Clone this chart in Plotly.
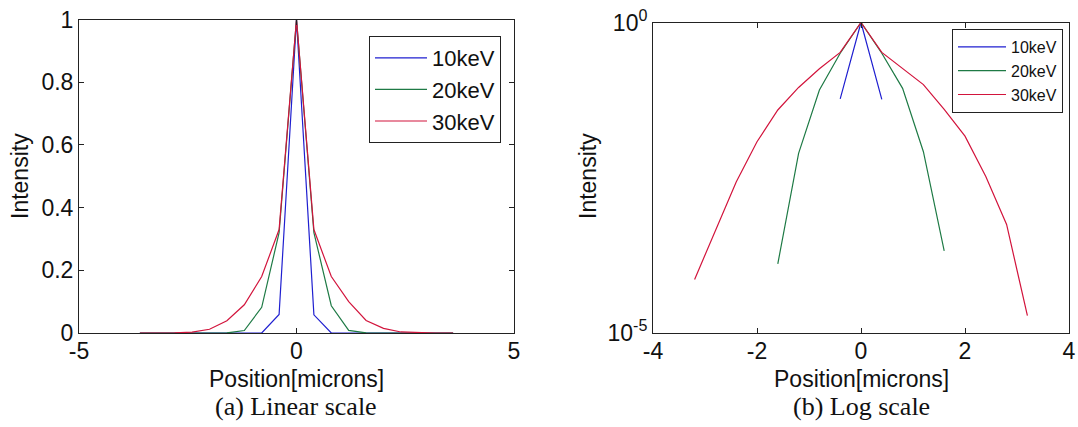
import plotly.graph_objects as go

# ---- data ----
position = [-3.6, -3.2, -2.8, -2.4, -2.0, -1.6, -1.2, -0.8, -0.4, 0.0,
            0.4, 0.8, 1.2, 1.6, 2.0, 2.4, 2.8, 3.2, 3.6]
int_10kev = [0, 0, 0, 0, 0, 0, 0, 0, 0.059, 1.0,
             0.058, 0, 0, 0, 0, 0, 0, 0, 0]
int_20kev = [0, 0, 0, 0, 0, 1.3e-4, 0.0078, 0.082, 0.32, 1.0,
             0.32, 0.087, 0.0083, 2.1e-4, 0, 0, 0, 0, 0]
int_30kev = [0, 7.3e-5, 4.6e-4, 0.0027, 0.012, 0.039, 0.09, 0.18, 0.33, 1.0,
             0.33, 0.18, 0.10, 0.040, 0.0148, 0.0033, 5.6e-4, 1.9e-5, 0]

series_names = ["10keV", "20keV", "30keV"]
series_values = [int_10kev, int_20kev, int_30kev]
series_colors = ["#1F1FD0", "#1E7A45", "#D2143C"]

lin_xticks = [-5, 0, 5]
lin_xticktext = ["-5", "0", "5"]
lin_yticks = [0, 0.2, 0.4, 0.6, 0.8, 1]
lin_yticktext = ["0", "0.2", "0.4", "0.6", "0.8", "1"]
log_xticks = [-4, -2, 0, 2, 4]
log_xticktext = ["-4", "-2", "0", "2", "4"]
log_yticks = [1e-5, 1]
log_yticktext = ["10<sup>-5</sup>", "10<sup>0</sup>"]

W, H = 1078, 427
SANS = "Arial, Liberation Sans, sans-serif"
SERIF = "Times New Roman, Liberation Serif, serif"
TXT = "#111111"

fig = go.Figure()
for name, vals, col in zip(series_names, series_values, series_colors):
    fig.add_trace(go.Scatter(x=position, y=vals, mode="lines", name=name,
                             line=dict(color=col, width=1.2),
                             xaxis="x", yaxis="y", legend="legend"))
for name, vals, col in zip(series_names, series_values, series_colors):
    # zero intensities cannot be shown on a log axis: leave a gap
    log_vals = [v if v > 0 else None for v in vals]
    fig.add_trace(go.Scatter(x=position, y=log_vals, mode="lines", name=name,
                             line=dict(color=col, width=1.2), connectgaps=False,
                             xaxis="x2", yaxis="y2", legend="legend2"))

ax_common = dict(showgrid=False, zeroline=False, showline=True, linecolor="#222222",
                 linewidth=1, mirror="ticks", ticks="inside", ticklen=5,
                 tickcolor="#222222", automargin=False,
                 tickfont=dict(family=SANS, size=23, color=TXT))

y_bot = 1 - 333 / H
fig.update_layout(
    width=W, height=H, autosize=False,
    margin=dict(l=0, r=0, t=0, b=0, pad=0),
    paper_bgcolor="white", plot_bgcolor="white",
    xaxis=dict(domain=[79 / W, 514 / W], range=[-5, 5], tickvals=lin_xticks,
               ticktext=lin_xticktext, anchor="y", ticklabelstandoff=-3, **ax_common),
    yaxis=dict(domain=[y_bot, 1 - 19.5 / H], range=[0, 1], tickvals=lin_yticks,
               ticktext=lin_yticktext, anchor="x", **ax_common),
    xaxis2=dict(domain=[653 / W, 1069 / W], range=[-4, 4], tickvals=log_xticks,
                ticktext=log_xticktext, anchor="y2", ticklabelstandoff=-3, **ax_common),
    yaxis2=dict(domain=[y_bot, 1 - 22.5 / H], type="log", range=[-5, 0],
                tickvals=log_yticks, ticktext=log_yticktext, anchor="x2", **ax_common),
    legend=dict(x=369 / W, y=1 - 36 / H, xanchor="left", yanchor="top",
                bordercolor="#222222", borderwidth=1, bgcolor="white",
                itemwidth=52,
                font=dict(family=SANS, size=22, color=TXT)),
    legend2=dict(x=952 / W, y=1 - 29 / H, xanchor="left", yanchor="top",
                 bordercolor="#222222", borderwidth=1, bgcolor="white",
                 itemwidth=48,
                 font=dict(family=SANS, size=16, color=TXT)),
)

annots = [
    dict(text="Position[microns]", x=296 / W, y=1 - 379 / H, size=23, family=SANS, angle=0),
    dict(text="Position[microns]", x=861 / W, y=1 - 379 / H, size=23, family=SANS, angle=0),
    dict(text="Intensity", x=20 / W, y=1 - 176 / H, size=23, family=SANS, angle=-90),
    dict(text="Intensity", x=588 / W, y=1 - 176 / H, size=23, family=SANS, angle=-90),
    dict(text="(a) Linear scale", x=296 / W, y=1 - 406 / H, size=26, family=SERIF, angle=0),
    dict(text="(b) Log scale", x=861 / W, y=1 - 406 / H, size=26, family=SERIF, angle=0),
]
for a in annots:
    fig.add_annotation(text=a["text"], x=a["x"], y=a["y"], xref="paper", yref="paper",
                       xanchor="center", yanchor="middle", showarrow=False,
                       textangle=a["angle"],
                       font=dict(family=a["family"], size=a["size"], color=TXT))

fig.write_html("out.html",
               config={"displayModeBar": False},
               post_script="document.body.style.margin='0px';"
                           "document.body.style.overflow='hidden';")
